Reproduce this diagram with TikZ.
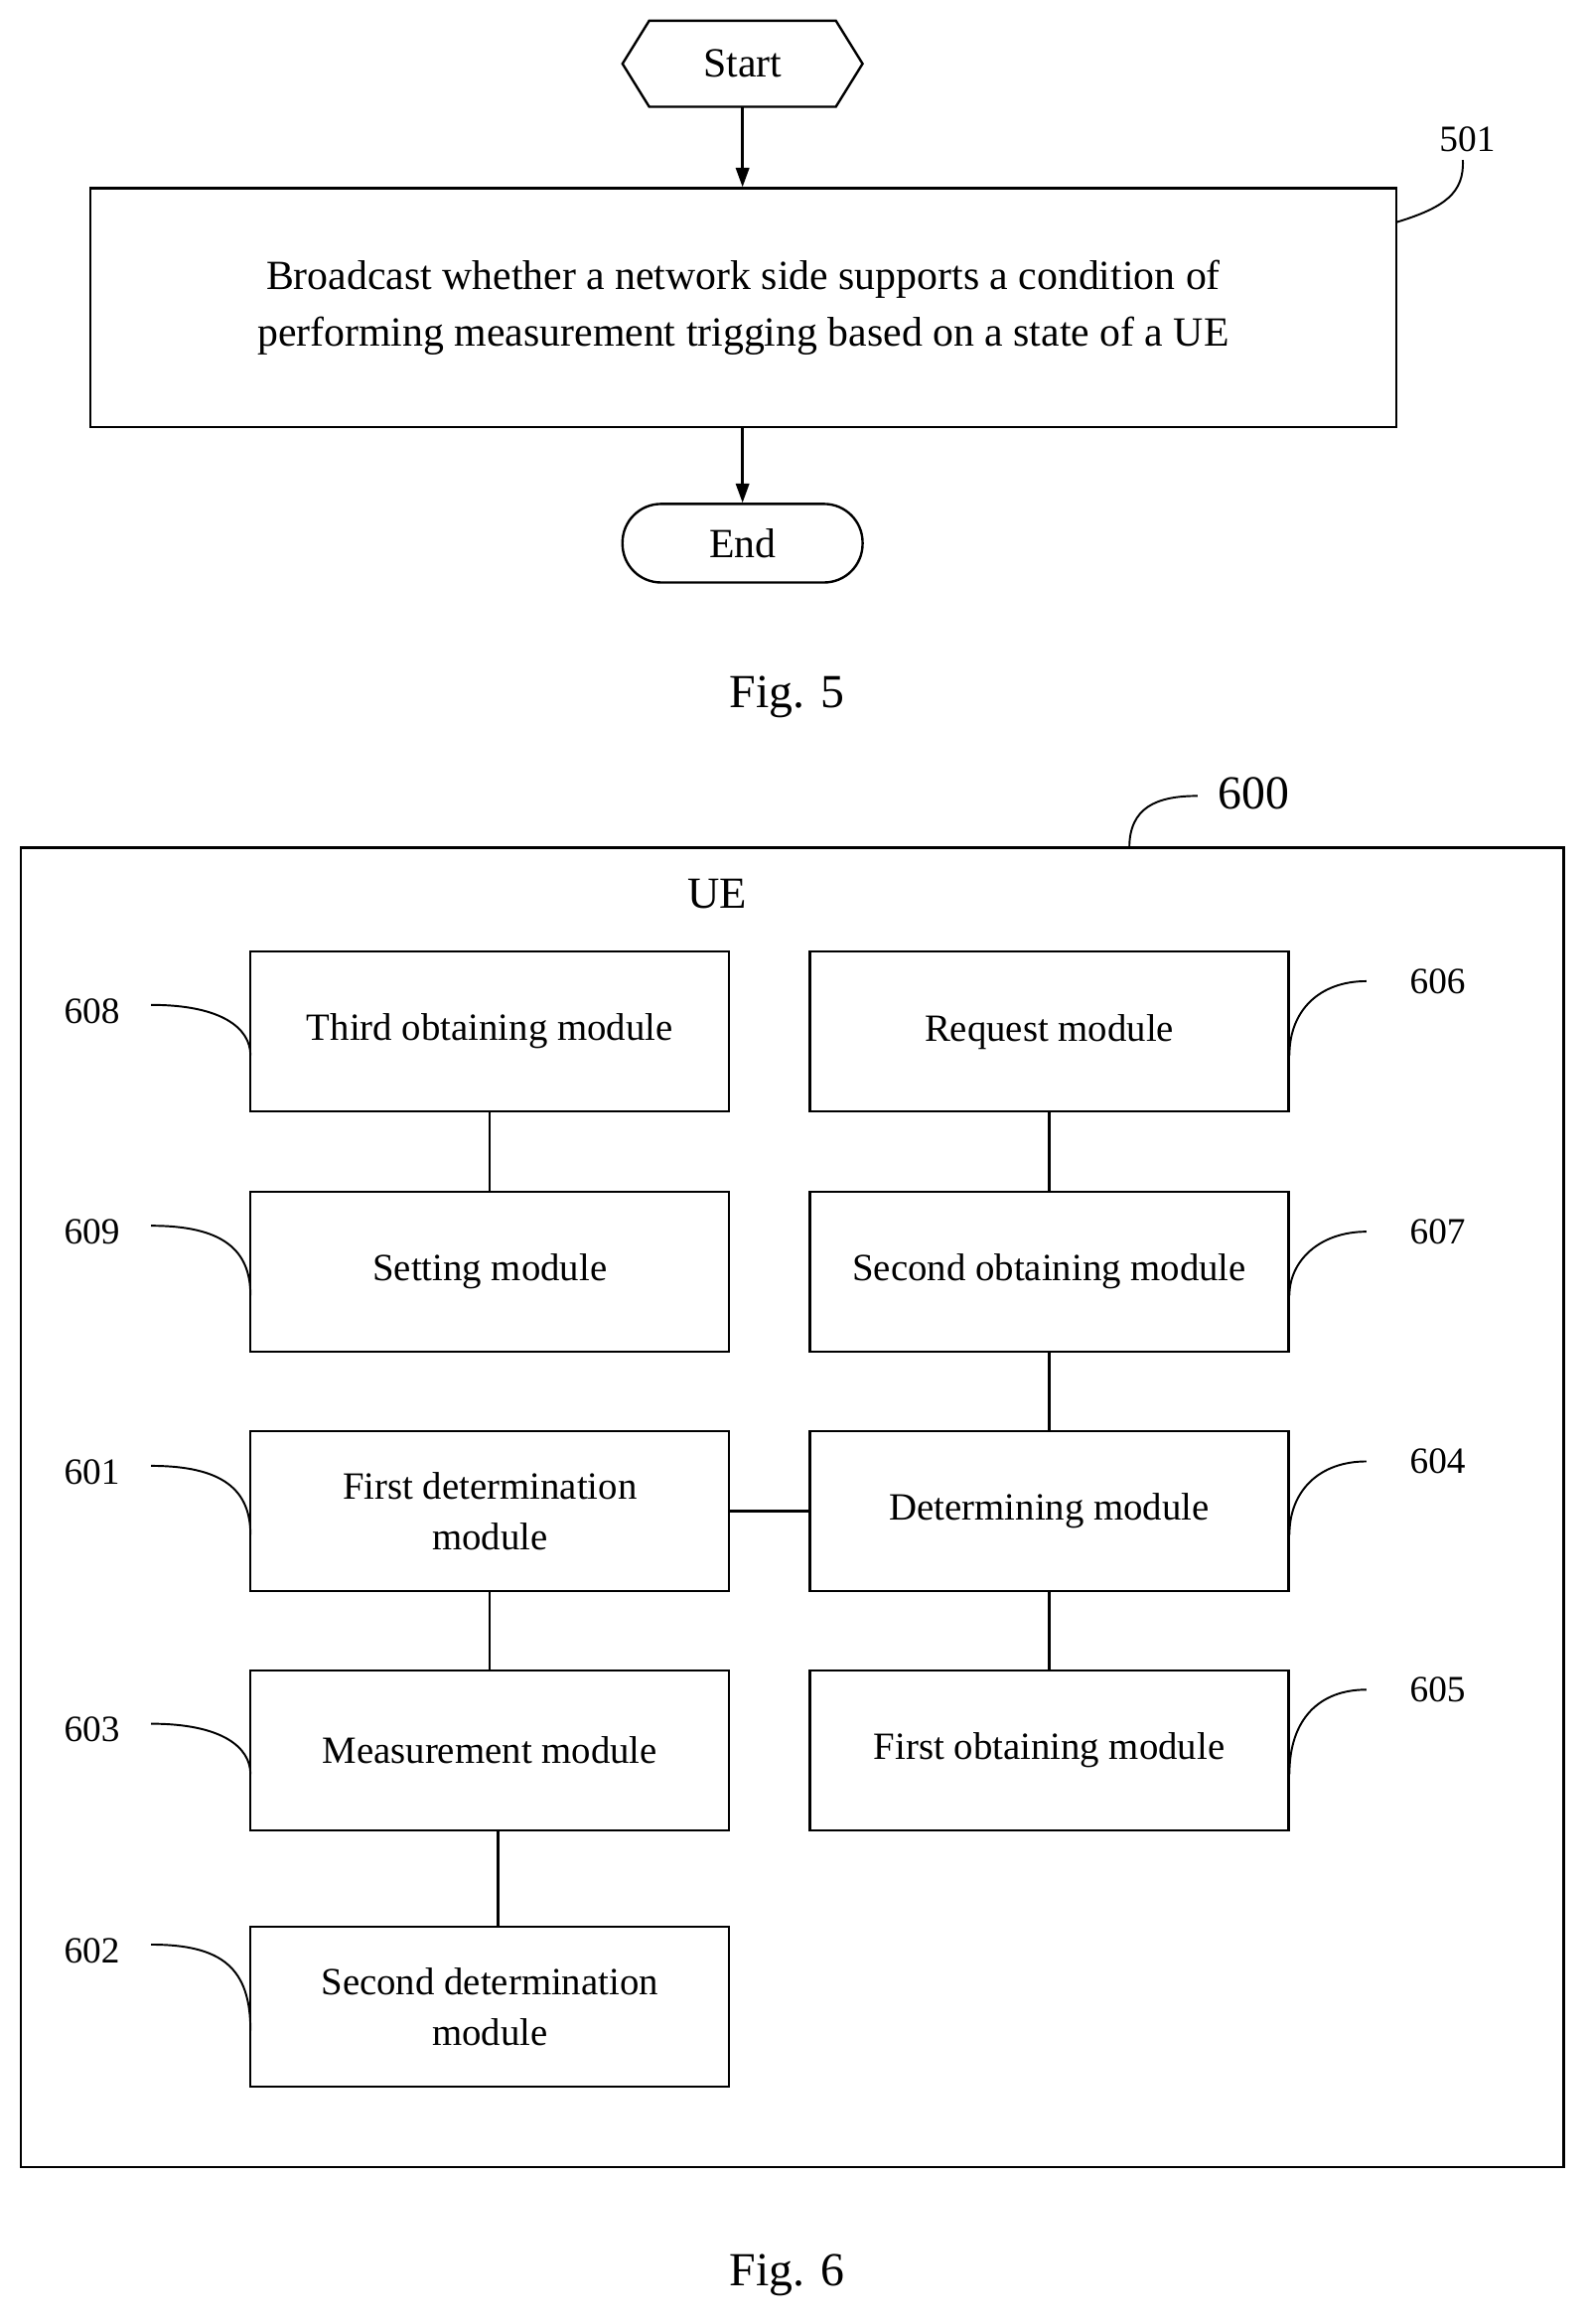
\documentclass[tikz,border=0pt]{standalone}
\usepackage{fontspec}
\setmainfont{Liberation Serif}
\usetikzlibrary{shapes.geometric,arrows.meta}
\begin{document}
\begin{tikzpicture}[x=1pt,y=-1pt,line width=1.6pt,
  box/.style={draw,minimum width=323pt,minimum height=108pt,align=center,font=\fontsize{26}{34}\selectfont,inner sep=0pt},
  num/.style={font=\fontsize{25}{30}\selectfont},
  lead/.style={line width=1.3pt},
  arr/.style={-{Triangle[length=13pt,width=9pt]}}]
\useasboundingbox (0,0) rectangle (1072,1568);
% Fig 5
\draw (420,43) -- (438,14) -- (564,14) -- (582,43) -- (564,72) -- (438,72) -- cycle;
\node[font=\fontsize{28}{34}\selectfont] (start) at (501,43) {Start};
\coordinate (st) at (501,72);
\node[draw,minimum width=881pt,minimum height=161pt,align=center,font=\fontsize{28}{38}\selectfont,inner sep=0pt] (b501) at (501.5,207.5) {Broadcast whether a network side supports a condition of\\performing measurement trigging based on a state of a UE};
\node[draw,rounded corners=26pt,minimum width=162pt,minimum height=53pt,font=\fontsize{28}{34}\selectfont,inner sep=0pt] (end) at (501,366.5) {End};
\draw[arr] (st) -- (b501.north -| st);
\draw[arr] (b501.south -| st) -- (end);
\node[num] (l501) at (990,94) {501};
\draw[lead] (942,150) .. controls (975,140) and (988,130) .. (987,108);
\node[font=\fontsize{32}{38}\selectfont] (f5) at (531,470) {Fig. 5};
% Fig 6
\node[draw,minimum width=1041pt,minimum height=890pt,inner sep=0pt] (ue) at (534.5,1017) {};
\node[font=\fontsize{32}{38}\selectfont] (l600) at (846,535) {600};
\draw[lead] (762,572) .. controls (762,545) and (780,537) .. (808,537);
\node[font=\fontsize{30}{36}\selectfont] (uet) at (484,603) {UE};
\node[box] (m608) at (330.5,696) {Third obtaining module};
\node[box] (m609) at (330.5,858) {Setting module};
\node[box] (m601) at (330.5,1019.5) {First determination\\module};
\node[box] (m603) at (330.5,1181) {Measurement module};
\node[box] (m602) at (330.5,1354) {Second determination\\module};
\node[box] (m606) at (708,696) {Request module};
\node[box] (m607) at (708,858) {Second obtaining module};
\node[box] (m604) at (708,1019.5) {Determining module};
\node[box] (m605) at (708,1181) {First obtaining module};
\draw (m608) -- (m609);
\draw (m601) -- (m603);
\draw (m606) -- (m607);
\draw (m607) -- (m604);
\draw (m604) -- (m605);
\draw (m601) -- (m604);
\draw (m603.south -| 336,0) -- (m602.north -| 336,0);
% left labels
\foreach \n/\y/\ly in {608/696/682,609/858/831,601/1019.5/993,603/1181/1167,602/1354/1316}{
  \node[num] at (62,\ly) {\n};
  \draw[lead] (102,\ly-4) .. controls (150,\ly-4) and (169,\ly+12) .. (169,\y+16);
}
\foreach \n/\y/\ly in {606/696/662,607/858/831,604/1019.5/986,605/1181/1140}{
  \node[num] at (970,\ly) {\n};
  \draw[lead] (870,\y+16) .. controls (870,\ly+20) and (890,\ly) .. (922,\ly);
}
\node[font=\fontsize{32}{38}\selectfont] (f6) at (531,1535) {Fig. 6};
\end{tikzpicture}
\end{document}
